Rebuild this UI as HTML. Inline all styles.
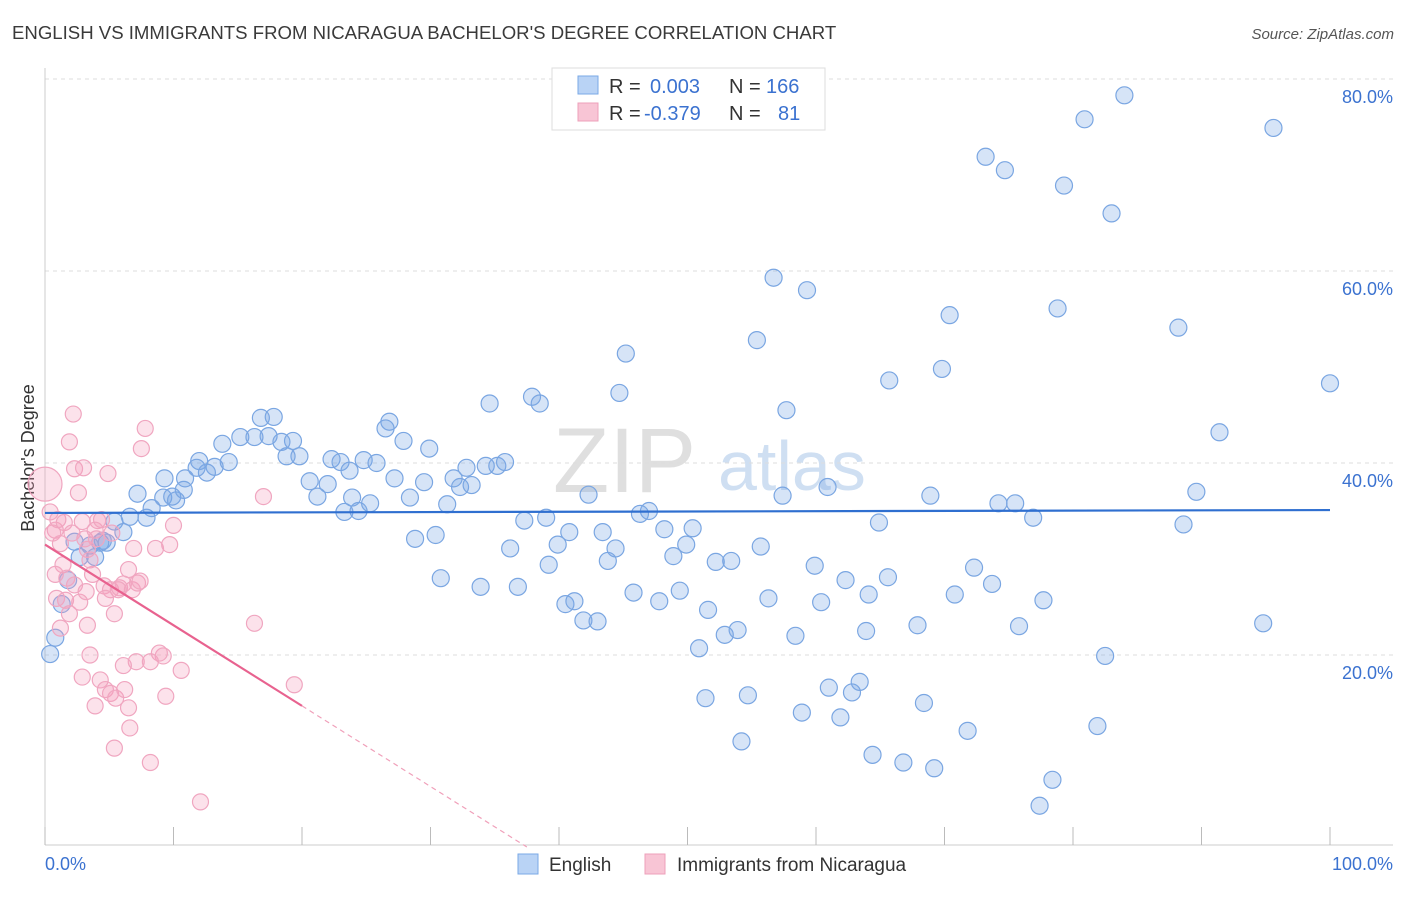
<!DOCTYPE html>
<html><head><meta charset="utf-8"><style>
body{margin:0;background:#fff;font-family:"Liberation Sans",sans-serif}
svg text{font-family:"Liberation Sans",sans-serif}
</style></head><body>
<svg id="chart" width="1406" height="892" viewBox="0 0 1406 892" xmlns="http://www.w3.org/2000/svg">
<text x="12" y="39" font-size="18.6" fill="#3a3a3a">ENGLISH VS IMMIGRANTS FROM NICARAGUA BACHELOR'S DEGREE CORRELATION CHART</text>
<text x="1394" y="39" font-size="15" fill="#555" font-style="italic" text-anchor="end">Source: ZipAtlas.com</text>
<g>
<text x="553" y="492" font-size="92" fill="#d8d8d8" font-family="Liberation Serif, serif" opacity="0.8">ZIP</text>
<text x="718" y="490" font-size="70" fill="#c4d8f0" opacity="0.8">atlas</text>
</g>
<g id="grid"></g>
<g id="ticks"></g>
<text transform="translate(34,458) rotate(-90)" font-size="18" fill="#333" text-anchor="middle">Bachelor's Degree</text>
<g id="pts"></g>
<g id="lines"></g>
<g>
<rect x="552" y="68" width="273" height="62" fill="#fff" stroke="#ddd"/>
<rect x="578" y="76" width="20" height="18" fill="#b9d3f5" stroke="#7aa8e6"/>
<rect x="578" y="103" width="20" height="18" fill="#f8c5d5" stroke="#eea0ba"/>
<text x="609" y="93" font-size="20" fill="#333">R =</text>
<text x="650" y="93" font-size="20" fill="#3b72d0">0.003</text>
<text x="729" y="93" font-size="20" fill="#333">N =</text>
<text x="766" y="93" font-size="20" fill="#3b72d0">166</text>
<text x="609" y="120" font-size="20" fill="#333">R =</text>
<text x="644" y="120" font-size="20" fill="#3b72d0">-0.379</text>
<text x="729" y="120" font-size="20" fill="#333">N =</text>
<text x="778" y="120" font-size="20" fill="#3b72d0">81</text>
</g>
<g>
<rect x="518" y="854" width="20" height="20" fill="#b9d3f5" stroke="#7aa8e6"/>
<text x="549" y="871" font-size="19" fill="#333">English</text>
<rect x="645" y="854" width="20" height="20" fill="#f8c5d5" stroke="#eea0ba"/>
<text x="677" y="871" font-size="19" fill="#333">Immigrants from Nicaragua</text>
</g>
<text x="45" y="870" font-size="18" fill="#3b72d0">0.0%</text>
<text x="1393" y="870" font-size="18" fill="#3b72d0" text-anchor="end">100.0%</text>
</svg>
<script>
const yTicks=[20,40,60,80];
const xTickVals=[0,10,20,30,40,50,60,70,80,90,100];
const blueX=[84.0,80.9,95.6,73.2,74.7,79.3,83.0,56.7,59.3,70.4,78.8,88.2,55.4,45.2,65.7,69.8,100,44.7,34.6,37.9,38.5,57.7,91.4,17.8,16.8,26.8,26.5,27.9,29.9,13.8,15.2,16.3,17.4,19.3,18.4,19.8,18.8,22.3,23.0,24.8,25.8,12.0,13.2,14.3,12.6,10.9,9.3,11.8,23.7,27.2,29.5,32.8,31.8,32.3,33.2,34.3,35.2,35.8,20.6,22.0,21.2,23.3,23.9,24.4,25.3,28.4,31.3,28.8,30.4,42.3,47.0,46.3,37.3,39.0,40.8,39.9,43.4,44.4,43.8,48.2,50.4,49.9,48.9,36.2,39.2,57.4,60.9,64.9,68.9,74.2,75.5,76.9,89.6,88.6,30.8,33.9,36.8,40.5,41.2,41.9,43.0,45.8,47.8,49.4,51.6,52.2,53.4,55.7,59.9,62.3,64.1,65.6,60.4,56.3,50.9,52.9,53.9,58.4,63.9,67.9,70.8,72.3,73.7,75.8,77.7,94.8,82.5,51.4,54.7,58.9,61.0,62.8,63.4,61.9,54.2,64.4,66.8,69.2,68.4,71.8,81.9,78.4,77.4,0.4,0.8,1.3,1.8,2.7,3.9,3.5,4.5,4.8,5.4,6.1,6.6,7.2,7.9,8.3,9.2,9.9,10.2,10.8,4.3,2.3];
const blueY=[78.3,75.8,74.9,71.9,70.5,68.9,66.0,59.3,58.0,55.4,56.1,54.1,52.8,51.4,48.6,49.8,48.3,47.3,46.2,46.9,46.2,45.5,43.2,44.8,44.7,44.3,43.6,42.3,41.5,42.0,42.7,42.7,42.8,42.3,42.2,40.7,40.7,40.4,40.1,40.3,40.0,40.2,39.6,40.1,39.0,38.4,38.4,39.5,39.2,38.4,38.0,39.5,38.4,37.5,37.7,39.7,39.7,40.1,38.1,37.8,36.5,34.9,36.4,35.0,35.8,36.4,35.7,32.1,32.5,36.7,35.0,34.7,34.0,34.3,32.8,31.5,32.8,31.1,29.8,33.1,33.2,31.5,30.3,31.1,29.4,36.6,37.5,33.8,36.6,35.8,35.8,34.3,37.0,33.6,28.0,27.1,27.1,25.3,25.6,23.6,23.5,26.5,25.6,26.7,24.7,29.7,29.8,31.3,29.3,27.8,26.3,28.1,25.5,25.9,20.7,22.1,22.6,22.0,22.5,23.1,26.3,29.1,27.4,23.0,25.7,23.3,19.9,15.5,15.8,14.0,16.6,16.1,17.2,13.5,11.0,9.6,8.8,8.2,15.0,12.1,12.6,7.0,4.3,20.1,21.8,25.3,27.8,30.2,30.2,31.4,31.9,31.7,33.9,32.8,34.4,36.8,34.3,35.3,36.4,36.5,36.1,37.2,31.7,31.8];
const pinkX=[0,0.4,0.8,1.0,1.2,1.4,1.7,2.2,1.9,2.3,2.6,2.9,3.0,3.1,3.3,3.5,3.7,0.9,1.2,0.8,1.6,1.9,2.3,2.7,3.2,3.3,3.5,2.9,3.9,4.3,4.7,5.1,5.5,6.2,6.5,6.6,5.4,8.2,6.9,4.6,5.1,5.4,5.8,6.1,6.5,6.8,7.2,7.4,7.8,7.5,4.9,4.1,3.9,4.4,8.6,9.7,10.0,10.6,9.4,9.2,8.9,7.1,6.1,8.2,17.0,16.3,19.4,12.1,0.6,1.5,4.0,5.2,2.1,4.7,5.7];
const pinkY=[37.8,34.9,33.0,34.1,31.6,29.4,28.0,45.1,42.2,39.4,36.9,33.9,39.5,32.1,31.0,29.9,28.4,25.9,22.8,28.4,25.7,24.3,27.3,25.5,26.6,23.1,20.0,17.7,14.7,17.4,16.4,16.0,15.5,16.4,14.5,12.4,10.3,8.8,31.1,27.2,26.8,24.3,27.0,27.4,28.9,26.8,27.5,27.7,43.6,41.5,38.9,34.0,33.0,34.1,31.1,31.5,33.5,18.4,15.7,19.9,20.2,19.3,18.9,19.3,36.5,23.3,16.9,4.7,32.7,33.8,32.1,32.7,32.7,25.9,26.8];
const blueFit=[0.003,34.8];
const pinkFit=[-0.84,31.5];
const X0=45,X1=1330,YB=847,PXPER=9.6;
const sx=v=>X0+(X1-X0)*v/100;
const sy=v=>YB-v*PXPER;
const NS='http://www.w3.org/2000/svg';
function mk(tag,attrs,parent){const e=document.createElementNS(NS,tag);for(const k in attrs)e.setAttribute(k,attrs[k]);parent.appendChild(e);return e;}
const grid=document.getElementById('grid');
yTicks.forEach(t=>{
const l=mk('line',{x1:45,x2:1393,y1:sy(t),y2:sy(t),stroke:'#ddd','stroke-dasharray':'4,4'},grid);


const tx=mk('text',{x:1393,y:sy(t)+24,'font-size':18,fill:'#3b72d0','text-anchor':'end'},grid);
tx.textContent=t.toFixed(1)+'%';


});
mk('line',{x1:45,x2:45,y1:68,y2:845,stroke:'#ccc'},grid);
mk('line',{x1:45,x2:1393,y1:845,y2:845,stroke:'#ccc'},grid);
const ticks=document.getElementById('ticks');
xTickVals.forEach(t=>{
const l=mk('line',{x1:sx(t),x2:sx(t),y1:827,y2:845,stroke:'#bbb'},ticks);


});
const pts=document.getElementById('pts');


blueX.forEach((x,i)=>{
const c=mk('circle',{cx:sx(x),cy:sy(blueY[i]),r:8.5,fill:'rgba(120,165,230,0.3)',stroke:'#7aa6e2','stroke-width':1.2},pts);


});
pinkX.forEach((x,i)=>{
const c=mk('circle',{cx:sx(x),cy:sy(pinkY[i]),r:i===0?17:8,fill:'rgba(245,160,190,0.3)',stroke:'#f0a6c0','stroke-width':1.2},pts);


});
const lines=document.getElementById('lines');
const bl=mk('line',{x1:sx(0),y1:sy(blueFit[1]),x2:sx(100),y2:sy(blueFit[1]+blueFit[0]*100),stroke:'#2f6fd0','stroke-width':2.2},lines);


const pf=x=>pinkFit[1]+pinkFit[0]*x;
const pl=mk('line',{x1:sx(0),y1:sy(pf(0)),x2:sx(20),y2:sy(pf(20)),stroke:'#e8628f','stroke-width':2.2},lines);


const xEnd=-pinkFit[1]/pinkFit[0];
const pd=mk('line',{x1:sx(20),y1:sy(pf(20)),x2:sx(xEnd),y2:sy(0),stroke:'#f0a0ba','stroke-width':1.2,'stroke-dasharray':'5,4'},lines);


</script>
</body></html>
